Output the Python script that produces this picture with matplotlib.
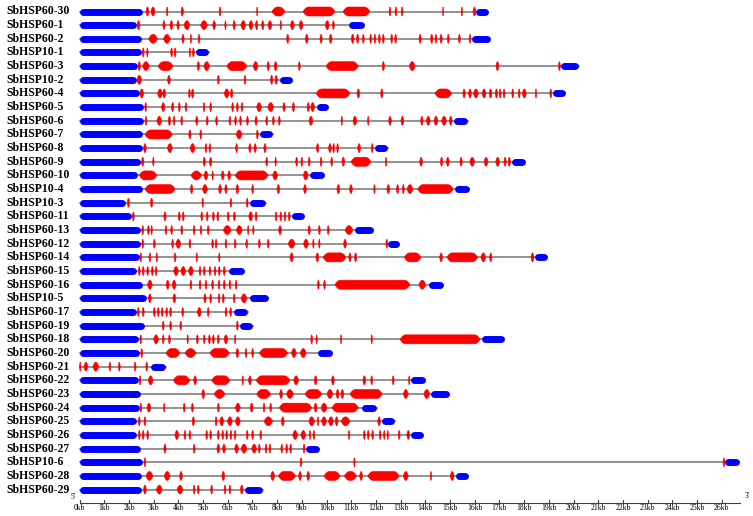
import matplotlib.pyplot as plt
import numpy as np
from matplotlib.patches import Polygon

# gene structure data, all positions in kb from the 5' end
gene_names = [
    "SbHSP60-30", "SbHSP60-1", "SbHSP60-2", "SbHSP10-1", "SbHSP60-3", "SbHSP10-2",
    "SbHSP60-4", "SbHSP60-5", "SbHSP60-6", "SbHSP60-7", "SbHSP60-8", "SbHSP60-9",
    "SbHSP60-10", "SbHSP10-4", "SbHSP10-3", "SbHSP60-11", "SbHSP60-13", "SbHSP60-12",
    "SbHSP60-14", "SbHSP60-15", "SbHSP60-16", "SbHSP10-5", "SbHSP60-17", "SbHSP60-19",
    "SbHSP60-18", "SbHSP60-20", "SbHSP60-21", "SbHSP60-22", "SbHSP60-23", "SbHSP60-24",
    "SbHSP60-25", "SbHSP60-26", "SbHSP60-27", "SbHSP10-6", "SbHSP60-28", "SbHSP60-29",
]

# 5' UTR end (starts at 0); None = no 5' UTR
utr5_end = [
    2.57, 2.29, 2.52, 2.49, 2.36, 2.32, 2.41, 2.61, 2.61, 2.56, 2.56, 2.48,
    2.34, 2.56, 1.88, 2.11, 2.48, 2.48, 2.42, 2.32, 2.56, 2.72, 2.32, 2.65,
    2.38, 2.42, None, 2.38, 2.48, 2.42, 2.32, 2.32, 2.48, 2.56, 2.52, 2.52,
]

# 3' UTR (start, end)
utr3 = [
    (16.05, 16.54), (10.91, 11.52), (15.87, 16.62), (4.68, 5.24), (19.49, 20.22),
    (8.09, 8.62), (19.16, 19.66), (9.58, 10.07), (15.13, 15.72), (7.28, 7.82),
    (11.94, 12.48), (17.50, 18.04), (9.30, 9.90), (15.20, 15.77), (6.87, 7.55),
    (8.59, 9.10), (11.15, 11.90), (12.48, 12.94), (18.44, 18.94), (6.02, 6.67),
    (14.12, 14.73), (6.90, 7.64), (6.23, 6.81), (6.47, 7.01), (16.28, 17.20),
    (9.63, 10.24), (2.88, 3.49), (13.42, 13.99), (14.23, 14.96), (11.40, 12.03),
    (12.21, 12.77), (13.42, 13.92), (9.17, 9.70), (26.13, 26.71), (15.23, 15.74),
    (6.66, 7.42),
]

# CDS exons (start, end) per gene
exons = [
    # SbHSP60-30
    [(2.69, 2.81), (2.89, 3.06), (3.52, 3.58), (4.11, 4.21), (5.65, 5.73), (7.17, 7.21),
     (7.79, 8.32), (9.05, 10.34), (10.67, 11.76), (12.53, 12.61), (12.77, 12.85),
     (13.02, 13.10), (14.70, 14.74), (15.45, 15.51), (15.93, 16.05)],
    # SbHSP60-1
    [(2.33, 2.45), (3.37, 3.47), (3.66, 3.78), (3.94, 4.04), (4.23, 4.47), (4.90, 5.18),
     (5.39, 5.51), (5.88, 5.94), (6.21, 6.31), (6.53, 6.73), (6.86, 7.02), (7.12, 7.22),
     (7.37, 7.47), (7.63, 7.79), (8.12, 8.18), (8.54, 8.70), (8.89, 9.05), (9.95, 10.11),
     (10.24, 10.32)],
    # SbHSP60-2
    [(2.80, 3.16), (3.40, 3.68), (4.14, 4.24), (4.48, 4.54), (4.80, 4.88), (8.38, 8.48),
     (9.14, 9.26), (9.73, 9.83), (10.11, 10.23), (11.00, 11.12), (11.21, 11.31),
     (11.45, 11.53), (11.75, 11.83), (11.92, 12.00), (12.10, 12.18), (12.26, 12.34),
     (12.60, 12.68), (12.76, 12.84), (13.74, 13.84), (14.21, 14.31), (14.39, 14.47),
     (14.59, 14.69), (14.89, 14.97), (15.34, 15.42), (15.77, 15.85)],
    # SbHSP10-1
    [(2.54, 2.62), (2.72, 2.78), (3.69, 3.77), (3.83, 3.91), (4.44, 4.50), (4.57, 4.65)],
    # SbHSP60-3
    [(2.37, 2.47), (2.55, 2.83), (3.18, 3.79), (4.76, 4.86), (5.03, 5.27), (5.96, 6.78),
     (7.03, 7.23), (7.59, 7.69), (7.88, 8.00), (8.86, 8.94), (9.98, 11.29), (12.25, 12.35),
     (13.35, 13.59), (16.86, 16.98), (19.39, 19.47)],
    # SbHSP10-2
    [(2.32, 2.52), (3.56, 3.68), (5.58, 5.66), (6.66, 6.74), (7.73, 7.83), (7.91, 8.01)],
    # SbHSP60-4
    [(2.44, 2.60), (3.16, 3.36), (3.37, 3.49), (4.41, 4.49), (4.53, 4.63), (5.86, 6.06),
     (6.11, 6.21), (9.58, 10.95), (11.23, 11.35), (12.19, 12.29), (14.39, 15.07),
     (15.52, 15.62), (15.75, 15.87), (15.95, 16.15), (16.30, 16.46), (16.58, 16.70),
     (16.83, 16.93), (16.99, 17.07), (17.15, 17.23), (17.50, 17.58), (17.76, 17.84),
     (17.93, 18.09), (18.45, 18.51), (19.04, 19.12)],
    # SbHSP60-5
    [(2.64, 2.72), (3.32, 3.46), (3.72, 3.82), (4.00, 4.08), (4.27, 4.35), (5.00, 5.08),
     (5.27, 5.35), (6.16, 6.24), (6.35, 6.43), (6.54, 6.62), (7.17, 7.37), (7.62, 7.86),
     (8.23, 8.33), (8.61, 8.71), (9.21, 9.31), (9.36, 9.52)],
    # SbHSP60-6
    [(2.65, 2.73), (3.13, 3.33), (3.59, 3.69), (3.79, 3.87), (4.10, 4.18), (4.70, 4.80),
     (5.13, 5.21), (5.51, 5.59), (6.05, 6.13), (6.28, 6.36), (6.48, 6.56), (6.76, 6.84),
     (7.10, 7.20), (7.54, 7.62), (7.81, 7.89), (8.05, 8.13), (9.29, 9.45), (10.59, 10.65),
     (11.07, 11.23), (11.66, 11.72), (12.51, 12.63), (13.01, 13.13), (13.81, 13.91),
     (14.04, 14.20), (14.35, 14.51), (14.66, 14.86), (14.97, 15.09)],
    # SbHSP60-7
    [(2.65, 3.76), (4.42, 4.52), (4.87, 4.95), (6.34, 6.58), (7.16, 7.24)],
    # SbHSP60-8
    [(2.59, 2.71), (3.56, 3.76), (4.48, 4.68), (5.08, 5.16), (5.24, 5.32), (6.32, 6.40),
     (6.85, 6.95), (7.06, 7.16), (7.46, 7.56), (9.59, 9.69), (10.08, 10.20), (10.25, 10.33),
     (10.41, 10.49), (11.26, 11.38), (11.81, 11.89)],
    # SbHSP60-9
    [(2.51, 2.61), (2.96, 3.02), (5.00, 5.10), (5.26, 5.36), (7.54, 7.62), (7.91, 7.97),
     (8.75, 8.83), (8.96, 9.04), (9.26, 9.34), (9.74, 9.82), (10.17, 10.25), (10.62, 10.74),
     (10.99, 11.80), (12.38, 12.44), (13.77, 13.89), (14.61, 14.71), (14.85, 14.97),
     (15.40, 15.50), (15.80, 16.00), (16.38, 16.54), (16.85, 17.01), (17.18, 17.28),
     (17.35, 17.45)],
    # SbHSP60-10
    [(2.42, 3.13), (4.51, 4.95), (5.04, 5.20), (5.36, 5.42), (5.74, 5.86), (6.00, 6.12),
     (6.30, 7.64), (7.82, 8.02), (9.06, 9.26)],
    # SbHSP10-4
    [(2.65, 3.87), (4.49, 4.59), (4.98, 5.18), (5.63, 5.75), (5.88, 5.98), (6.33, 6.45),
     (6.97, 7.05), (7.99, 8.11), (9.07, 9.19), (10.42, 10.54), (10.93, 11.05),
     (11.91, 11.97), (12.44, 12.56), (12.83, 12.93), (13.07, 13.15), (13.26, 13.50),
     (13.69, 15.13)],
    # SbHSP10-3
    [(1.93, 2.03), (2.87, 2.97), (4.96, 5.02), (6.09, 6.17), (6.75, 6.83)],
    # SbHSP60-11
    [(2.14, 2.22), (3.41, 3.51), (4.00, 4.08), (4.16, 4.24), (4.91, 4.99), (5.13, 5.21),
     (5.38, 5.46), (5.56, 5.64), (5.98, 6.06), (6.23, 6.31), (6.85, 7.01), (7.11, 7.19),
     (7.92, 8.00), (8.11, 8.19), (8.28, 8.36), (8.45, 8.53)],
    # SbHSP60-13
    [(2.52, 2.60), (2.75, 2.83), (2.89, 2.95), (3.46, 3.54), (3.69, 3.77), (4.10, 4.18),
     (4.60, 4.68), (4.88, 4.96), (5.17, 5.25), (5.82, 6.14), (6.35, 6.59), (6.80, 6.86),
     (7.01, 7.07), (8.06, 8.18), (9.25, 9.35), (9.67, 9.75), (10.03, 10.11), (10.75, 11.07)],
    # SbHSP60-12
    [(2.52, 2.60), (2.99, 3.07), (3.73, 3.81), (3.90, 4.10), (4.43, 4.51), (5.35, 5.43),
     (5.49, 5.57), (5.89, 5.97), (6.26, 6.34), (6.73, 6.81), (7.24, 7.32), (7.60, 7.68),
     (8.45, 8.73), (9.07, 9.27), (9.44, 9.50), (9.68, 9.74), (10.69, 10.81), (12.40, 12.48)],
    # SbHSP60-14
    [(2.44, 2.52), (2.81, 2.89), (3.10, 3.16), (3.83, 3.91), (4.72, 4.78), (5.63, 5.69),
     (8.52, 8.66), (9.57, 9.69), (9.86, 10.79), (10.90, 11.00), (11.13, 11.23),
     (13.15, 13.83), (14.58, 14.70), (14.87, 16.12), (16.25, 16.45), (16.60, 16.70),
     (18.28, 18.40)],
    # SbHSP60-15
    [(2.38, 2.46), (2.54, 2.62), (2.72, 2.80), (2.91, 2.99), (3.06, 3.14), (3.81, 4.01),
     (4.10, 4.30), (4.41, 4.61), (4.84, 4.92), (5.01, 5.09), (5.24, 5.32), (5.45, 5.53),
     (5.62, 5.70), (5.82, 5.90)],
    # SbHSP60-16
    [(2.75, 2.95), (3.51, 3.63), (3.75, 3.91), (4.47, 4.55), (4.84, 4.92), (5.08, 5.16),
     (5.35, 5.43), (5.61, 5.69), (5.82, 5.90), (6.05, 6.13), (6.30, 6.38), (9.63, 9.71),
     (9.88, 9.96), (10.34, 13.38), (13.74, 14.02)],
    # SbHSP10-5
    [(2.79, 2.91), (3.78, 3.90), (5.03, 5.13), (5.27, 5.35), (5.61, 5.69), (5.78, 5.86),
     (6.22, 6.30), (6.54, 6.78)],
    # SbHSP60-17
    [(2.34, 2.42), (2.54, 2.62), (2.99, 3.07), (3.15, 3.23), (3.31, 3.39), (3.49, 3.57),
     (3.65, 3.73), (4.14, 4.22), (4.77, 4.93), (5.17, 5.25), (5.89, 5.97), (6.08, 6.16)],
    # SbHSP60-19
    [(3.35, 3.43), (3.65, 3.73), (4.06, 4.14), (6.35, 6.43)],
    # SbHSP60-18
    [(2.44, 2.52), (3.00, 3.20), (3.35, 3.43), (3.60, 3.68), (4.35, 4.41), (4.73, 4.81),
     (5.01, 5.09), (5.22, 5.30), (5.38, 5.46), (5.58, 5.66), (5.85, 6.01), (6.27, 6.33),
     (9.36, 9.44), (9.57, 9.63), (10.56, 10.62), (11.80, 11.86), (12.98, 16.22)],
    # SbHSP60-20
    [(2.48, 2.56), (3.50, 4.07), (4.27, 4.72), (5.28, 6.07), (6.33, 6.45), (6.70, 6.78),
     (6.97, 7.05), (7.28, 8.43), (8.58, 8.78), (8.94, 9.18)],
    # SbHSP60-21
    [(0.00, 0.06), (0.18, 0.34), (0.54, 0.78), (1.19, 1.27), (1.57, 1.65), (2.21, 2.29),
     (2.68, 2.76)],
    # SbHSP60-22
    [(2.41, 2.49), (2.78, 2.98), (3.80, 4.47), (4.62, 4.74), (5.35, 6.09), (6.58, 6.64),
     (6.84, 6.96), (7.15, 8.52), (8.67, 8.87), (9.50, 9.62), (10.20, 10.32), (11.47, 11.59),
     (11.79, 11.87), (12.66, 12.74), (13.32, 13.38)],
    # SbHSP60-23
    [(4.95, 5.07), (5.45, 5.89), (7.17, 7.74), (8.10, 8.22), (8.38, 8.66), (9.13, 9.81),
     (10.02, 10.26), (10.39, 10.51), (10.58, 10.70), (10.95, 12.26), (13.11, 13.31),
     (13.94, 14.18)],
    # SbHSP60-24
    [(2.44, 2.52), (2.73, 2.89), (3.40, 3.46), (4.20, 4.28), (4.53, 4.61), (5.58, 5.66),
     (6.31, 6.51), (6.91, 7.03), (7.43, 7.51), (7.70, 7.78), (8.09, 9.40), (9.50, 9.62),
     (9.78, 10.02), (10.22, 11.29)],
    # SbHSP60-25
    [(2.38, 2.46), (2.61, 2.69), (4.56, 4.66), (5.49, 5.57), (5.68, 5.84), (5.99, 6.19),
     (6.31, 6.51), (7.47, 7.82), (8.17, 8.29), (9.28, 9.52), (9.63, 9.69), (9.80, 10.00),
     (10.08, 10.28), (10.35, 10.47), (10.59, 10.95), (12.07, 12.19)],
    # SbHSP60-26
    [(2.38, 2.46), (2.54, 2.62), (2.72, 2.80), (3.86, 4.02), (4.23, 4.31), (4.43, 4.51),
     (5.11, 5.19), (5.27, 5.35), (5.58, 5.66), (5.76, 5.84), (5.92, 6.00), (6.09, 6.17),
     (6.26, 6.34), (6.75, 6.83), (6.97, 7.05), (7.30, 7.38), (8.63, 8.83), (8.96, 9.16),
     (9.30, 9.36), (9.45, 9.53), (10.88, 10.94), (11.49, 11.57), (11.65, 11.73),
     (11.83, 11.91), (12.13, 12.21), (12.31, 12.37), (12.45, 12.51), (12.90, 12.98),
     (13.25, 13.37)],
    # SbHSP60-27
    [(3.41, 3.51), (4.60, 4.68), (5.56, 5.68), (5.79, 5.91), (6.28, 6.44), (6.54, 6.78),
     (6.97, 7.17), (7.24, 7.32), (7.51, 7.59), (7.67, 7.75), (8.15, 8.23), (8.35, 8.43),
     (8.51, 8.59), (9.05, 9.13)],
    # SbHSP10-6
    [(2.61, 2.69), (8.93, 9.01), (11.10, 11.16), (26.05, 26.13)],
    # SbHSP60-28
    [(2.69, 2.97), (3.43, 3.67), (4.05, 4.17), (5.76, 5.88), (7.74, 7.90), (8.05, 8.75),
     (8.87, 8.99), (9.20, 9.32), (9.90, 10.55), (10.72, 11.22), (11.34, 11.46),
     (11.67, 12.94), (13.11, 13.31), (14.20, 14.26), (15.01, 15.17)],
    # SbHSP60-29
    [(2.59, 2.71), (3.11, 3.35), (3.95, 4.19), (4.60, 4.68), (4.77, 4.85), (5.31, 5.39),
     (5.85, 5.93), (6.05, 6.13), (6.51, 6.63)],
]

kb_ticks = list(range(27))
axis_end = 26.74

RED = "#ff0000"
BLUE = "#0000ff"
GRAY = "#808080"

PX_PER_KB = 24.7
X0_PX = 79.5
W, H = 753, 516


def exon_shape(s, e, yc, h=9.0, tip=0.22):
    """Exon glyph: box with curved pointed ends."""
    t = min((e - s) / 2, tip)
    u = np.linspace(0, 1, 8)
    half = h / 2 * (1 - (1 - u) ** 2)
    xl = s + u * t
    xr = e - u * t
    top = list(zip(xl, yc - half)) + list(zip(xr[::-1], yc - half[::-1]))
    bot = list(zip(xr, yc + half)) + list(zip(xl[::-1], yc + half[::-1]))
    return Polygon(top + bot, closed=True, facecolor=RED, edgecolor=RED,
                   linewidth=0.4, zorder=3)


fig = plt.figure(figsize=(W / 100, H / 100), dpi=100)
ax = fig.add_axes([0, 0, 1, 1])
ax.set_xlim(-X0_PX / PX_PER_KB, (W - X0_PX) / PX_PER_KB)
ax.set_ylim(H, 0)
ax.axis("off")

row_y0, row_step = 11.5, 13.66
cap = 3.5 / PX_PER_KB   # half of the UTR bar thickness, in kb

for i, name in enumerate(gene_names):
    y = row_y0 + i * row_step
    ax.text(-2.95, y, name, ha="left", va="center", fontsize=8.5,
            fontweight="bold", family="Liberation Serif")
    start = 0.0 if utr5_end[i] is not None else exons[i][0][0]
    ax.plot([start, utr3[i][1]], [y, y], color=GRAY, lw=1.2, zorder=1)
    if utr5_end[i] is not None:
        ax.plot([cap, utr5_end[i] - cap], [y, y], color=BLUE, lw=5.0,
                solid_capstyle="round", zorder=2)
    ax.plot([utr3[i][0] + cap, utr3[i][1] - cap], [y, y], color=BLUE, lw=5.0,
            solid_capstyle="round", zorder=2)
    for s, e in exons[i]:
        ax.add_patch(exon_shape(s, e, y))

# scale bar
axis_y = 503
ax.plot([0, axis_end], [axis_y, axis_y], color="#404040", lw=0.8)
for k in kb_ticks:
    ax.plot([k, k], [axis_y - 3, axis_y], color="#404040", lw=0.8)
    ax.text(k, axis_y + 4.5, f"{k}kb", ha="center", va="center", fontsize=5.5,
            family="Liberation Serif")
ax.text(-0.25, axis_y - 6, "5'", ha="center", va="center", fontsize=5.5,
        family="Liberation Serif")
ax.text(axis_end + 0.3, axis_y - 7, "3'", ha="center", va="center", fontsize=5.5,
        family="Liberation Serif")

fig.savefig("out.png", dpi=100)
